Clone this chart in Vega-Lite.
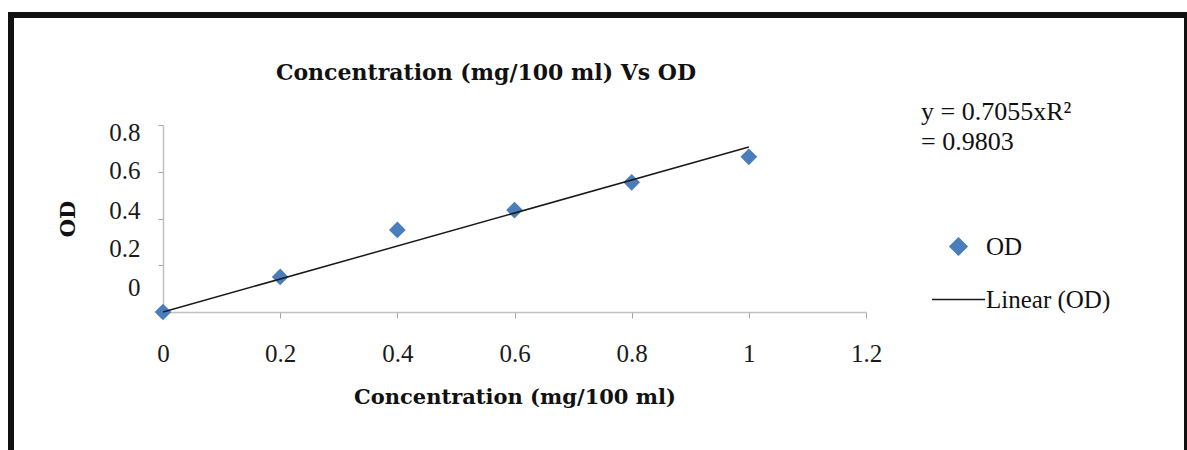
{
  "$schema": "https://vega.github.io/schema/vega-lite/v6.json",
  "width": 1176,
  "height": 441,
  "autosize": "none",
  "padding": {"left": 11, "top": 15, "right": 0, "bottom": -6},
  "background": "white",
  "config": {
    "view": {"stroke": "#111111", "strokeWidth": 6},
    "font": "Liberation Serif"
  },
  "title": {
    "text": "Concentration (mg/100 ml) Vs OD",
    "font": "DejaVu Serif",
    "fontSize": 22,
    "fontWeight": "bold",
    "color": "#111111",
    "anchor": "middle",
    "frame": "group",
    "dx": -113,
    "offset": -70
  },
  "datasets": {
    "points": [
      {"c": 0, "od": 0, "series": "OD"},
      {"c": 0.2, "od": 0.15, "series": "OD"},
      {"c": 0.4, "od": 0.351, "series": "OD"},
      {"c": 0.6, "od": 0.436, "series": "OD"},
      {"c": 0.8, "od": 0.555, "series": "OD"},
      {"c": 1, "od": 0.664, "series": "OD"}
    ],
    "fit": [
      {"c": 0, "od": 0, "series": "Linear (OD)"},
      {"c": 1, "od": 0.7055, "series": "Linear (OD)"}
    ]
  },
  "encoding": {
    "x": {
      "field": "c",
      "type": "quantitative",
      "scale": {"domain": [0, 1.2], "range": [152, 855], "nice": false, "zero": false},
      "axis": {
        "values": [0, 0.2, 0.4, 0.6, 0.8, 1, 1.2],
        "format": "~g",
        "offset": -144,
        "grid": false,
        "title": "Concentration (mg/100 ml)",
        "titleFont": "DejaVu Serif",
        "titleFontSize": 21,
        "titleFontWeight": "bold",
        "titleColor": "#111111",
        "titlePadding": 20,
        "labelFont": "Liberation Serif",
        "labelFontSize": 25,
        "labelColor": "#1a1a1a",
        "labelPadding": 23,
        "labelFlush": false,
        "labelOverlap": false,
        "tickSize": 6,
        "tickColor": "#a6a6a6",
        "domainColor": "#c0c0c0",
        "domainWidth": 1.5
      }
    },
    "y": {
      "field": "od",
      "type": "quantitative",
      "scale": {"domain": [0, 0.8], "range": [297, 110], "nice": false, "zero": false},
      "axis": {
        "values": [0, 0.2, 0.4, 0.6, 0.8],
        "format": "~g",
        "offset": -152,
        "grid": false,
        "title": "OD",
        "titleFont": "DejaVu Serif",
        "titleFontSize": 21,
        "titleFontWeight": "bold",
        "titleColor": "#111111",
        "titlePadding": 30,
        "labelFont": "Liberation Serif",
        "labelFontSize": 25,
        "labelColor": "#1a1a1a",
        "labelPadding": 18,
        "labelFlush": false,
        "labelOverlap": false,
        "labelOffset": {
          "condition": [
            {"test": "datum.value === 0", "value": -25},
            {"test": "datum.value === 0.2", "value": -17},
            {"test": "datum.value === 0.4", "value": -8},
            {"test": "datum.value === 0.8", "value": 7}
          ],
          "value": -1
        },
        "tickSize": 5,
        "tickColor": "#a6a6a6",
        "domainColor": "#c0c0c0",
        "domainWidth": 1.5
      }
    },
    "color": {
      "field": "series",
      "type": "nominal",
      "scale": {"domain": ["OD", "Linear (OD)"], "range": ["#4a7ebb", "#1a1a1a"]},
      "legend": {
        "orient": "none",
        "legendX": 910,
        "legendY": 84,
        "padding": 0,
        "title": ["y = 0.7055xR²", "= 0.9803"],
        "titleFont": "Liberation Serif",
        "titleFontSize": 26,
        "titleFontWeight": "normal",
        "titleColor": "#111111",
        "titleLineHeight": 30,
        "titleBaseline": "top",
        "titlePadding": 64,
        "labelFont": "Liberation Serif",
        "labelFontSize": 25,
        "labelColor": "#111111",
        "symbolSize": 2809,
        "symbolOffset": 10,
        "labelOffset": 0,
        "rowPadding": 12,
        "encode": {
          "symbols": {
            "update": {
              "shape": {"signal": "datum.value === 'OD' ? 'diamond' : 'stroke'"},
              "size": {"signal": "datum.value === 'OD' ? 300 : 2809"},
              "fill": {"signal": "datum.value === 'OD' ? '#4a7ebb' : 'transparent'"},
              "stroke": {"signal": "datum.value === 'OD' ? 'transparent' : '#1a1a1a'"},
              "strokeWidth": {"value": 1.3},
              "opacity": {"value": 1}
            }
          }
        }
      }
    }
  },
  "layer": [
    {
      "data": {"name": "points"},
      "mark": {"type": "point", "shape": "diamond", "filled": true, "size": 280, "opacity": 1}
    },
    {
      "data": {"name": "fit"},
      "mark": {"type": "line", "strokeWidth": 1.5}
    }
  ]
}
